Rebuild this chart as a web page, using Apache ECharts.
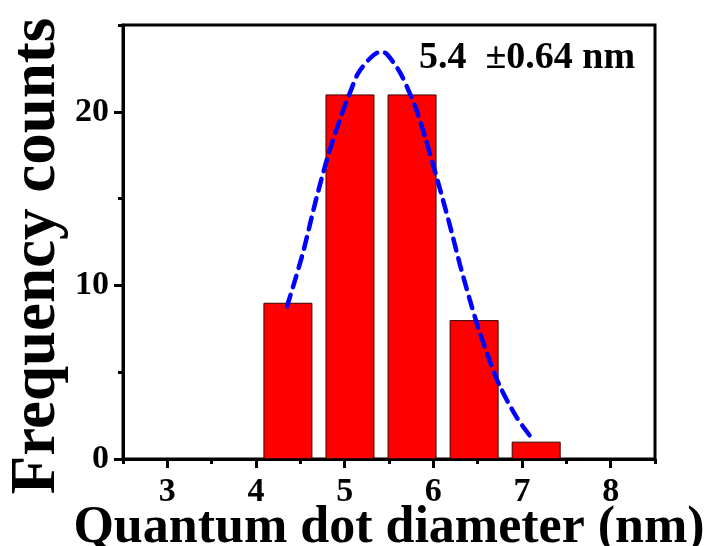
<!DOCTYPE html>
<html>
<head>
<meta charset="utf-8">
<style>
  html, body { margin: 0; padding: 0; background: #fff; }
  #chart { width: 713px; height: 546px; }
</style>
<script src="https://cdn.jsdelivr.net/npm/echarts@6/dist/echarts.min.js"></script>
</head>
<body>
<div id="chart"></div>
<script>
// Histogram bins (bin centre in nm) and counts
const binCenters = [4.36, 5.06, 5.76, 6.46, 7.16];
const binCounts = [9, 21, 21, 8, 1];

// Fitted Gaussian envelope, sampled along the curve
const fitX = [4.35, 4.44, 4.52, 4.57, 4.68, 4.82, 4.97, 5.06, 5.15, 5.29, 5.40, 5.47, 5.62,
              5.74, 5.81, 5.91, 6.00, 6.11, 6.21, 6.30, 6.41, 6.51, 6.64, 6.75, 6.94, 7.11];
const fitY = [8.8, 10.3, 11.7, 12.7, 15.0, 17.6, 19.9, 21.1, 22.2, 23.1, 23.45, 23.35, 22.3,
              21.0, 20.1, 18.5, 16.9, 14.9, 13.0, 11.2, 9.2, 7.5, 5.6, 4.2, 2.4, 1.2];

// Axis ticks
const xMajorTicks = [3, 4, 5, 6, 7, 8];
const xMinorTicks = [2.5, 3.5, 4.5, 5.5, 6.5, 7.5, 8.5];
const yMajorTicks = [0, 10, 20];
const yMinorTicks = [5, 15, 25];

const fitLabel = '5.4  \u00b10.64 nm';

const FONT = '"Liberation Serif", "Times New Roman", serif';
const chart = echarts.init(document.getElementById('chart'));

const barData = binCenters.map((c, i) => [c, binCounts[i]]);
const fitData = fitX.map((x, i) => [x, fitY[i]]);

chart.setOption({
  animation: false,
  backgroundColor: '#fff',
  grid: {
    left: 123, right: 58, top: 25, bottom: 87,
    outerBoundsMode: 'none', containLabel: false,
    show: true, borderColor: '#000', borderWidth: 3, backgroundColor: 'transparent'
  },
  xAxis: [
    {
      type: 'value', min: 2.5, max: 8.5, position: 'bottom',
      splitLine: { show: false },
      axisLine: { show: true, lineStyle: { color: '#000', width: 3 } },
      axisTick: { show: true, customValues: xMajorTicks, length: 9, lineStyle: { color: '#000', width: 3 } },
      axisLabel: {
        customValues: xMajorTicks, margin: 16,
        color: '#000', fontFamily: FONT, fontWeight: 'bold', fontSize: 34
      },
      name: 'Quantum dot diameter (nm)',
      nameLocation: 'middle', nameGap: 44, nameMoveOverlap: false,
      nameTextStyle: { color: '#000', fontFamily: FONT, fontWeight: 'bold', fontSize: 52 }
    },
    {
      type: 'value', min: 2.5, max: 8.5, position: 'bottom',
      splitLine: { show: false },
      axisLine: { show: false },
      axisTick: { show: true, customValues: xMinorTicks, length: 5, lineStyle: { color: '#000', width: 3 } },
      axisLabel: { show: false }
    }
  ],
  yAxis: [
    {
      type: 'value', min: 0, max: 25, position: 'left',
      splitLine: { show: false },
      axisLine: { show: true, lineStyle: { color: '#000', width: 3 } },
      axisTick: { show: true, customValues: yMajorTicks, length: 9, lineStyle: { color: '#000', width: 3 } },
      axisLabel: {
        customValues: yMajorTicks, margin: 14,
        color: '#000', fontFamily: FONT, fontWeight: 'bold', fontSize: 34
      },
      name: 'Frequency counts',
      nameLocation: 'middle', nameGap: 54, nameRotate: 90, nameMoveOverlap: false,
      nameTextStyle: {
        color: '#000', fontFamily: FONT, fontWeight: 'bold', fontSize: 63,
        padding: [0, 28, 0, 0]
      }
    },
    {
      type: 'value', min: 0, max: 25, position: 'left',
      splitLine: { show: false },
      axisLine: { show: false },
      axisTick: { show: true, customValues: yMinorTicks, length: 5, lineStyle: { color: '#000', width: 3 } },
      axisLabel: { show: false }
    }
  ],
  series: [
    {
      type: 'bar',
      xAxisIndex: 0, yAxisIndex: 0,
      data: barData,
      barWidth: 49,
      itemStyle: { color: '#ff0000', borderColor: '#3a0000', borderWidth: 1 },
      z: 2
    },
    {
      type: 'line',
      xAxisIndex: 0, yAxisIndex: 0,
      data: fitData,
      smooth: 0.3,
      showSymbol: false,
      lineStyle: { color: '#0000ff', width: 4.5, type: [12, 8], cap: 'round' },
      z: 3
    }
  ],
  graphic: [
    {
      type: 'text',
      left: 419, top: 39,
      style: {
        text: fitLabel,
        fill: '#000',
        font: 'bold 38px ' + FONT
      },
      z: 10
    }
  ]
});
</script>
</body>
</html>
